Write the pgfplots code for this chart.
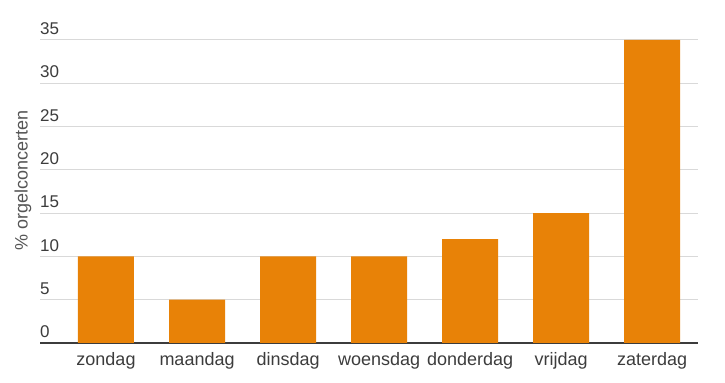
\documentclass[border=0pt]{standalone}
\usepackage{fontspec}
\setmainfont{Liberation Sans}
\usepackage{pgfplots}
\pgfplotsset{compat=1.18}
\definecolor{barc}{RGB}{232,130,7}
\definecolor{gridc}{RGB}{217,217,217}
\definecolor{txt}{RGB}{60,60,60}
\definecolor{lab}{RGB}{85,85,85}
\begin{document}
\begin{tikzpicture}
\path[use as bounding box] (-40bp,-40bp) rectangle (685bp,343bp);
\begin{axis}[
  at={(0,0)}, anchor=south west,
  scale only axis, width=657.7bp, height=303bp,
  xmin=-0.725, xmax=6.5, ymin=0, ymax=35,
  axis x line*=bottom, axis y line*=left,
  x axis line style={-, draw=txt, line width=2bp},
  y axis line style={draw=none},
  xtick={0,1,2,3,4,5,6},
  xticklabels={zondag,maandag,dinsdag,woensdag,donderdag,vrijdag,zaterdag},
  ytick={0,5,10,15,20,25,30,35},
  /pgf/number format/assume math mode=true,
  major tick length=0pt,
  xtick style={draw=none}, ytick style={draw=none},
  ymajorgrids, grid style={draw=gridc, line width=1bp},
  yticklabel style={anchor=south west, inner sep=0pt, yshift=5bp, text=txt, font=\fontsize{17bp}{20bp}\selectfont},
  xticklabel style={anchor=north, inner sep=0pt, yshift=-9bp, text=txt, font=\fontsize{18bp}{20bp}\selectfont},
  ylabel={\% orgelconcerten},
  ylabel style={at={(axis description cs:0,0.535)}, yshift=17bp, anchor=center, text=lab, font=\fontsize{18bp}{20bp}\selectfont},
]
\addplot[ybar, bar width=56bp, fill=barc, draw=none] coordinates {
  (0,10) (1,5) (2,10) (3,10) (4,12) (5,15) (6,35)
};
\end{axis}
\end{tikzpicture}
\end{document}
